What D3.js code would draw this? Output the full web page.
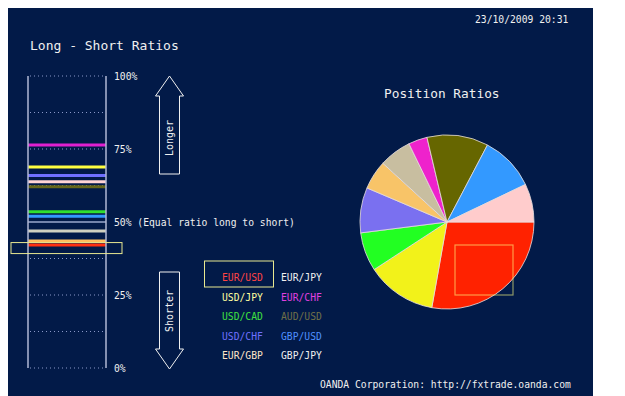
<!DOCTYPE html>
<html>
<head>
<meta charset="utf-8">
<script src="https://cdn.jsdelivr.net/npm/d3@7"></script>
<style>
  body { margin: 0; background: #fff; }
  svg text { font-family: "DejaVu Sans Mono", monospace; }
</style>
</head>
<body>
<svg id="chart"></svg>
<script>
// Currency pairs, in the order the pie draws them
const pairs = ["EUR/USD", "USD/JPY", "USD/CAD", "USD/CHF", "EUR/GBP", "GBP/JPY", "EUR/CHF", "AUD/USD", "GBP/USD", "EUR/JPY"];
// Percent of positions that are long, per pair
const longPct = [42.1, 68.8, 53.5, 65.9, 43.5, 46.9, 76.4, 62.1, 52.0, 63.8];
// Share of all positions, per pair (pie)
const share = [27.8, 13.0, 7.2, 8.4, 5.4, 6.0, 3.5, 11.4, 10.2, 7.1];
const lineColors = ["#ff3010", "#ffff40", "#30e030", "#7070ff", "#ffc060", "#d0d0c0", "#e020d0", "#66661a", "#3399ff", "#ffd4d4"];
const sliceColors = ["#ff2200", "#f2f21a", "#22ff22", "#7a70f0", "#f8c468", "#c8bea0", "#ee22cc", "#666600", "#3399ff", "#ffcccc"];
const textColors = ["#ff4444", "#ffffa0", "#40e040", "#7070ff", "#ffe4c8", "#f0f0f0", "#e040e0", "#707048", "#5090ff", "#f0f0f0"];
// Legend layout: left column and right column
const legendLeft = ["EUR/USD", "USD/JPY", "USD/CAD", "USD/CHF", "EUR/GBP"];
const legendRight = ["EUR/JPY", "EUR/CHF", "AUD/USD", "GBP/USD", "GBP/JPY"];
const tickValues = [0, 25, 50, 75, 100];
const gridValues = [12.5, 37.5, 62.5, 87.5];
const selected = "EUR/USD";

const width = 625, height = 396;
const small = "9.7px";
const svg = d3.select("#chart").attr("width", width).attr("height", height);

// Background panel
svg.append("rect").attr("x", 8).attr("y", 8).attr("width", 585).attr("height", 388).attr("fill", "#021a48");

// Title + date
svg.append("text").attr("x", 30).attr("y", 50).attr("fill", "#f0f0f0").style("font-size", "13px")
  .text("Long - Short Ratios");
svg.append("text").attr("x", 475).attr("y", 23).attr("fill", "#f0f0f0").style("font-size", small)
  .text("23/10/2009 20:31");

// Long/short column
const colL = 28, colR = 106;
const y = d3.scaleLinear().domain([0, 100]).range([368, 76]);

svg.selectAll(".grid")
  .data(tickValues.filter(d => d !== 50).concat(gridValues))
  .enter().append("line")
  .attr("x1", colL + 2).attr("x2", colR - 2)
  .attr("y1", d => y(d)).attr("y2", d => y(d))
  .attr("stroke", "#8a98c8").attr("stroke-width", 1).attr("stroke-dasharray", "1,3");

svg.append("line").attr("x1", colL).attr("x2", colR).attr("y1", y(50)).attr("y2", y(50))
  .attr("stroke", "#9aa8cc").attr("stroke-width", 1.5);

const rows = pairs.map((p, i) => ({ pair: p, v: longPct[i], c: lineColors[i] }));
svg.selectAll(".ratio")
  .data(rows)
  .enter().append("line")
  .attr("class", "ratio")
  .attr("x1", colL).attr("x2", colR)
  .attr("y1", d => y(d.v)).attr("y2", d => y(d.v))
  .attr("stroke", d => d.c).attr("stroke-width", 3);

[colL, colR].forEach(x => {
  svg.append("line").attr("x1", x).attr("x2", x).attr("y1", y(100)).attr("y2", y(0))
    .attr("stroke", "#b0b8d4").attr("stroke-width", 1.5);
});

// highlight box around the selected pair
const selV = longPct[pairs.indexOf(selected)];
svg.append("rect").attr("x", 11).attr("y", y(selV) - 2.5).attr("width", 111).attr("height", 11)
  .attr("fill", "none").attr("stroke", "#e8e890").attr("stroke-width", 1);

// tick labels
svg.selectAll(".tick-label")
  .data(tickValues)
  .enter().append("text")
  .attr("x", 114).attr("y", d => y(d)).attr("dy", "0.4em")
  .attr("fill", "#f0f0f0").style("font-size", small)
  .text(d => d === 50 ? "50% (Equal ratio long to short)" : d + "%");

// Arrows
const ax = 169.5, hw = 14, sw = 10, hh = 20;
const upArrow = [[ax, y(100)], [ax + hw, y(100) + hh], [ax + sw, y(100) + hh], [ax + sw, 174], [ax - sw, 174], [ax - sw, y(100) + hh], [ax - hw, y(100) + hh]];
const downArrow = [[ax, y(0) + 1], [ax + hw, y(0) + 1 - hh], [ax + sw, y(0) + 1 - hh], [ax + sw, 272], [ax - sw, 272], [ax - sw, y(0) + 1 - hh], [ax - hw, y(0) + 1 - hh]];
[upArrow, downArrow].forEach(pts => {
  svg.append("polygon").attr("points", pts.map(p => p.join(",")).join(" "))
    .attr("fill", "none").attr("stroke", "#f0f0f0").attr("stroke-width", 1);
});
svg.append("text").attr("transform", `translate(${ax + 3.5},138) rotate(-90)`).attr("text-anchor", "middle")
  .attr("fill", "#f0f0f0").style("font-size", "10px").text("Longer");
svg.append("text").attr("transform", `translate(${ax + 3.5},311) rotate(-90)`).attr("text-anchor", "middle")
  .attr("fill", "#f0f0f0").style("font-size", "10px").text("Shorter");

// Legend
const colorOf = p => textColors[pairs.indexOf(p)];
const legX = [222, 281];
[legendLeft, legendRight].forEach((col, ci) => {
  svg.selectAll(".leg" + ci)
    .data(col)
    .enter().append("text")
    .attr("x", legX[ci]).attr("y", (d, i) => 278 + i * 19.5).attr("dy", "0.35em")
    .attr("fill", d => colorOf(d)).style("font-size", small)
    .text(d => d);
});
svg.append("rect").attr("x", 204.5).attr("y", 261).attr("width", 69).attr("height", 26)
  .attr("fill", "none").attr("stroke", "#e8e890").attr("stroke-width", 1);

// Pie
svg.append("text").attr("x", 384).attr("y", 98).attr("fill", "#f0f0f0").style("font-size", "12.8px")
  .text("Position Ratios");

const cx = 447, cy = 222, r = 87;
const pie = d3.pie().sort(null).startAngle(Math.PI / 2).endAngle(Math.PI / 2 + 2 * Math.PI)
  .value(d => d.v);
const arc = d3.arc().innerRadius(0).outerRadius(r);
const slices = pairs.map((p, i) => ({ pair: p, v: share[i], c: sliceColors[i] }));
const g = svg.append("g").attr("transform", `translate(${cx},${cy})`);
g.selectAll("path")
  .data(pie(slices))
  .enter().append("path")
  .attr("d", arc)
  .attr("fill", d => d.data.c)
  .attr("stroke", "#e8e0e0").attr("stroke-width", 0.8);

svg.append("rect").attr("x", 455).attr("y", 245).attr("width", 58).attr("height", 50)
  .attr("fill", "none").attr("stroke", "#ffff80").attr("stroke-opacity", 0.55).attr("stroke-width", 1.2);

// Footer
svg.append("text").attr("x", 320).attr("y", 388).attr("fill", "#f0f0f0").style("font-size", small)
  .text("OANDA Corporation: http://fxtrade.oanda.com");
</script>
</body>
</html>
